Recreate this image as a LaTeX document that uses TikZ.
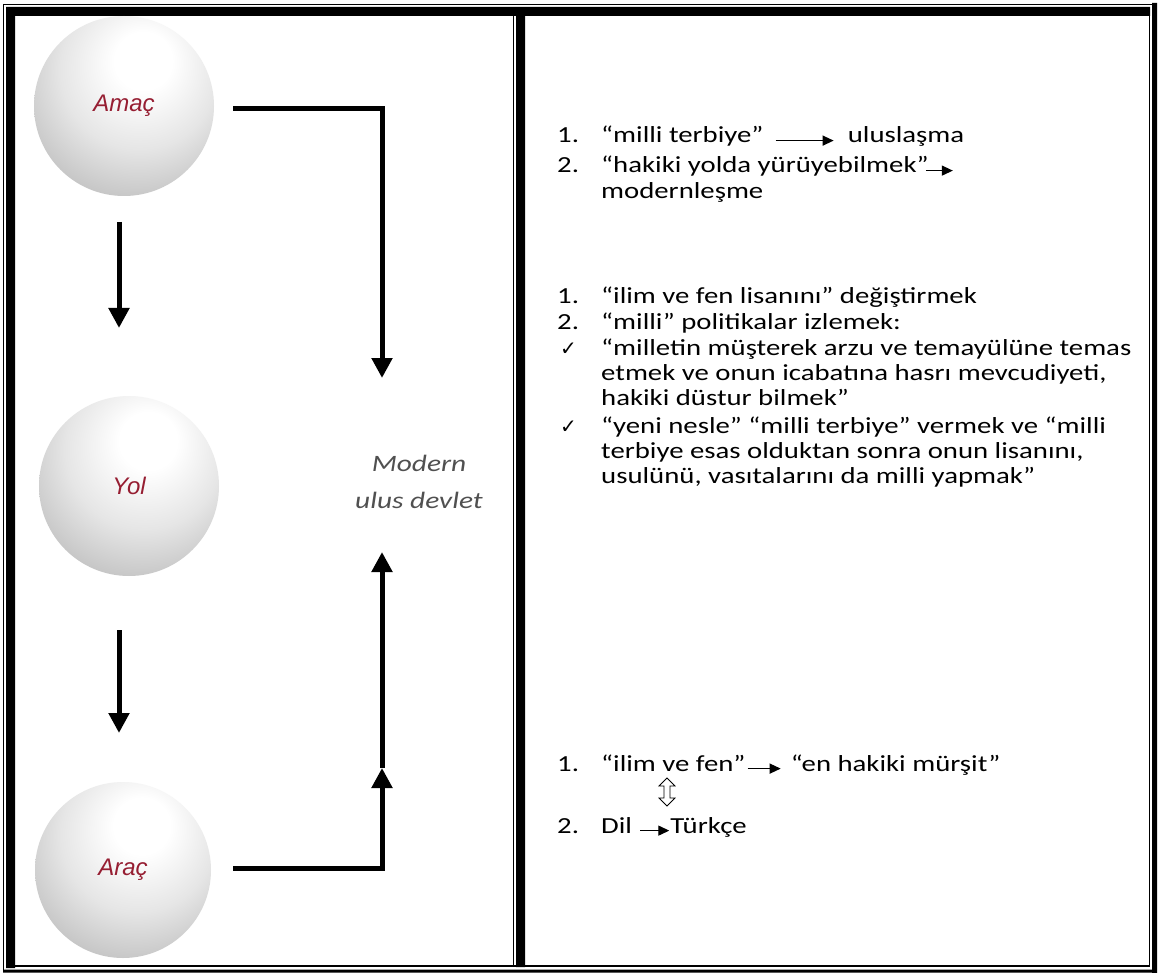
\documentclass[tikz,border=0pt]{standalone}
\usepackage{fontspec}
\setmainfont{Carlito}
\newfontfamily\bodyfont[FakeStretch=1.25]{Carlito}
\newfontfamily\arialfont{Liberation Sans}
\newfontfamily\symfont{DejaVu Sans}
\usetikzlibrary{arrows.meta}
\definecolor{labelred}{RGB}{150,30,50}
\definecolor{devletgray}{RGB}{80,80,80}
\pgfdeclareradialshading{sphereshade}{\pgfpoint{6bp}{14bp}}{color(0bp)=(white); color(8bp)=(white); color(22bp)=(black!10); color(38bp)=(black!27); color(50bp)=(black!48); color(58bp)=(black!60); color(66bp)=(black!45); color(76bp)=(black!35)}
\tikzset{
  sphereball/.style={circle, minimum size=180pt, inner sep=0pt, shade, shading=sphereshade, text=labelred, font=\arialfont\itshape\fontsize{24}{28}\selectfont},
  bigarrow/.style={line width=5pt, line join=miter, -{Triangle[length=20pt,width=20pt]}},
  item/.style={anchor=base west, inner sep=0pt, font=\bodyfont\fontsize{23}{25}\selectfont},
  tick/.style={anchor=base west, inner sep=0pt, font=\symfont\fontsize{20}{22}\selectfont},
  textarrow/.style={line width=1.3pt, -{Triangle[length=11pt,width=10pt]}}
}
\begin{document}
\begin{tikzpicture}[x=1pt, y=-1pt]
\useasboundingbox (0,0) rectangle (1158,973);
\fill[white] (0,0) rectangle (1158,973);
\fill (6,7) rectangle (1150,16) (6,7) rectangle (15,968) (1152,3) rectangle (1157,973) (3,969.5) rectangle (1157,972.5) (516,16) rectangle (525,967);
\draw[line width=1.4pt] (3,4.5) -- (1152,4.5) (3.5,4) -- (3.5,970) (1149.5,16) -- (1149.5,966) (15,966) -- (1150,966) (513.5,16) -- (513.5,967);
\node[sphereball] (amac) at (124,106) {Amaç};
\node[sphereball] (yol) at (129,486) {Yol};
\node[sphereball, minimum size=176pt] (arac) at (123,870) {Araç};
\node[align=center, text=devletgray, font=\bodyfont\itshape\fontsize{23.5}{37}\selectfont] (devlet) at (419,482) {Modern\\ulus devlet};
\coordinate (amacdown) at (119,222);
\coordinate (yolup) at (119,328);
\coordinate (yoldown) at (119,630);
\coordinate (aracup) at (119,733);
\coordinate (amacright) at (233,109);
\coordinate (devlettop) at (382,378);
\coordinate (aracright) at (233,868);
\coordinate (midtip) at (382,768);
\coordinate (devletbot) at (382,552);
\draw[bigarrow] (amacdown) -- (yolup);
\draw[bigarrow] (yoldown) -- (aracup);
\draw[bigarrow] (amacright) -| (devlettop);
\draw[bigarrow] (aracright) -| (midtip);
\draw[bigarrow] (midtip) -- (devletbot);
\node[item] (n1) at (557,143) {1.};
\node[item] (t1) at (601,143) {“milli terbiye”};
\node[item] (u1) at ([xshift=84pt]t1.base east) {uluslaşma};
\draw[textarrow, shorten <=12pt, shorten >=14pt] (t1.mid east) -- (u1.mid west);
\node[item] (n2) at (557,173) {2.};
\node[item] (t2) at (601,173) {“hakiki yolda yürüyebilmek”};
\coordinate (e2) at ([xshift=24pt]t2.mid east);
\draw[textarrow, shorten <=-3pt] (t2.mid east) -- (e2);
\node[item] (m2) at (601,199) {modernleşme};
\node[item] (n3) at (557,304) {1.};
\node[item] (t3) at (601,304) {“ilim ve fen lisanını” değiştirmek};
\node[item] (n4) at (557,329) {2.};
\node[item] (t4) at (601,329) {“milli” politikalar izlemek:};
\node[tick] (c1) at (560,355) {✓};
\node[item] (t5) at (601,355) {“milletin müşterek arzu ve temayülüne temas};
\node[item] (t6) at (601,380) {etmek ve onun icabatına hasrı mevcudiyeti,};
\node[item] (t7) at (601,405) {hakiki düstur bilmek”};
\node[tick] (c2) at (560,433) {✓};
\node[item] (t8) at (601,433) {“yeni nesle” “milli terbiye” vermek ve “milli};
\node[item] (t9) at (601,458) {terbiye esas olduktan sonra onun lisanını,};
\node[item] (t10) at (601,483) {usulünü, vasıtalarını da milli yapmak”};
\node[item] (n5) at (557,771) {1.};
\node[item] (t11) at (601,771) {“ilim ve fen”};
\node[item] (u11) at ([xshift=45pt]t11.base east) {“en hakiki mürşit”};
\draw[textarrow, shorten <=2pt, shorten >=10pt] (t11.mid east) -- (u11.mid west);
\node[item] (n6) at (557,833) {2.};
\node[item] (t12) at (601,833) {Dil};
\node[item] (u12) at ([xshift=38pt]t12.base east) {Türkçe};
\draw[textarrow, shorten <=8pt, shorten >=1pt] (t12.mid east) -- (u12.mid west);
\coordinate (updown) at (667,792);
\draw[line width=0.8pt, line join=miter] (updown) ++(0,-14) -- ++(8,8) -- ++(-5,0) -- ++(0,12) -- ++(5,0) -- ++(-8,8) -- ++(-8,-8) -- ++(5,0) -- ++(0,-12) -- ++(-5,0) -- cycle;
\end{tikzpicture}
\end{document}
